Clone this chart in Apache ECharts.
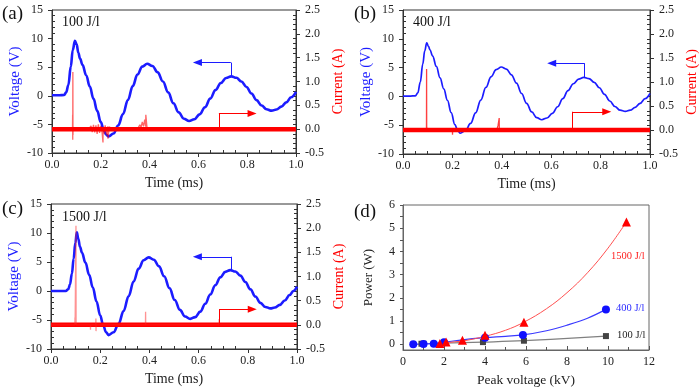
<!DOCTYPE html>
<html><head><meta charset="utf-8">
<script src="https://cdn.jsdelivr.net/npm/echarts@6/dist/echarts.min.js"></script>
<style>html,body{margin:0;padding:0;background:#fff}#c{width:700px;height:390px}</style>
</head><body><div id="c"></div>
<script>
// ---------- Panel (a) 100 J/l ----------
const tA = [0, 0.03, 0.05, 0.058, 0.067, 0.077, 0.085, 0.094, 0.101, 0.108, 0.115, 0.125, 0.14, 0.155, 0.17, 0.185, 0.2, 0.212, 0.222, 0.232, 0.252, 0.271, 0.291, 0.311, 0.331, 0.35, 0.37, 0.39, 0.4115, 0.433, 0.4545, 0.476, 0.4975, 0.519, 0.5405, 0.562, 0.5836, 0.605, 0.627, 0.6485, 0.67, 0.692, 0.7135, 0.735, 0.7556, 0.776, 0.797, 0.8175, 0.838, 0.859, 0.879, 0.9, 0.92, 0.94, 0.96, 0.98, 1.0];
const vA = [0.1, 0.1, 0.15, 0.6, 1.9, 5.1, 8.0, 9.6, 9.0, 7.5, 6.5, 5.4, 3.6, 1.6, -0.5, -2.6, -4.6, -6.0, -6.8, -7.1, -6.6, -5.2, -3.2, -0.75, 1.7, 3.7, 5.1, 5.6, 5.2, 4.1, 2.5, 0.6, -1.3, -2.9, -4.0, -4.4, -4.1, -3.25, -2.0, -0.5, 1.0, 2.25, 3.1, 3.4, 3.15, 2.5, 1.55, 0.4, -0.75, -1.7, -2.35, -2.6, -2.4, -1.9, -1.15, -0.25, 0.7];
const cTA = [0, 0.084, 0.0845, 0.085, 0.0855, 0.086, 0.0865, 0.087, 0.15, 0.16, 0.165, 0.17, 0.175, 0.18, 0.185, 0.19, 0.195, 0.2, 0.205, 0.209, 0.2095, 0.213, 0.218, 0.224, 0.229, 0.2295, 0.235, 0.245, 0.35, 0.36, 0.365, 0.37, 0.375, 0.38, 0.384, 0.3845, 0.39, 1.0];
const cIA = [0, 0, 0.3, -0.22, 1.2, -0.12, 0.05, 0, 0, 0.07, -0.06, 0.09, -0.07, 0.08, -0.1, 0.1, -0.08, 0.07, -0.06, -0.28, 0.05, -0.1, 0.08, -0.12, 0.06, -0.2, 0.05, 0, 0, 0.09, 0.04, 0.15, 0.06, 0.2, 0.05, 0.3, 0, 0];

// ---------- Panel (b) 400 J/l ----------
const tB = [0, 0.03, 0.05, 0.06, 0.07, 0.08, 0.088, 0.096, 0.103, 0.109, 0.12, 0.135, 0.15, 0.165, 0.18, 0.195, 0.21, 0.222, 0.232, 0.2528, 0.2735, 0.294, 0.315, 0.3355, 0.3565, 0.377, 0.398, 0.4185, 0.439, 0.4595, 0.48, 0.5005, 0.521, 0.5415, 0.562, 0.583, 0.6045, 0.626, 0.647, 0.668, 0.6895, 0.711, 0.732, 0.753, 0.774, 0.795, 0.816, 0.837, 0.858, 0.879, 0.9, 0.92, 0.94, 0.96, 0.98, 1.0];
const vB = [0.05, 0.05, 0.1, 0.6, 2.5, 5.6, 7.9, 9.3, 8.7, 8.1, 7.0, 5.2, 3.2, 1.3, -0.7, -2.8, -4.9, -6.0, -6.4, -5.95, -4.7, -2.85, -0.65, 1.55, 3.4, 4.65, 5.1, 4.75, 3.75, 2.3, 0.5, -1.2, -2.7, -3.7, -4.05, -3.75, -2.95, -1.8, -0.4, 1.0, 2.2, 3.0, 3.3, 3.1, 2.45, 1.5, 0.35, -0.8, -1.75, -2.4, -2.6, -2.4, -1.9, -1.2, -0.4, 0.5];
const cTB = [0, 0.095, 0.0955, 0.096, 0.0965, 0.097, 0.2, 0.2005, 0.201, 0.38, 0.385, 0.389, 0.3895, 0.39, 1.0];
const cIB = [0, 0, 1.27, -0.03, 0.05, 0, 0, -0.1, 0, 0, 0.1, 0.06, 0.25, 0, 0];

// ---------- Panel (c) 1500 J/l ----------
const tC = [0, 0.03, 0.06, 0.07, 0.077, 0.085, 0.092, 0.099, 0.105, 0.111, 0.118, 0.126, 0.14, 0.155, 0.17, 0.185, 0.2, 0.212, 0.224, 0.234, 0.2544, 0.2748, 0.2951, 0.3155, 0.3359, 0.3562, 0.3766, 0.397, 0.418, 0.439, 0.46, 0.4815, 0.503, 0.524, 0.545, 0.566, 0.5864, 0.6068, 0.6271, 0.6475, 0.6679, 0.6883, 0.7086, 0.729, 0.7494, 0.7698, 0.79, 0.8105, 0.8309, 0.8513, 0.8716, 0.892, 0.91, 0.93, 0.95, 0.97, 0.985, 1.0];
const vC = [0, 0, 0.0, 0.3, 1.1, 3.0, 5.6, 8.3, 10.1, 9.0, 7.6, 6.6, 4.9, 2.8, 0.6, -1.8, -4.2, -5.9, -7.1, -7.6, -7.1, -5.65, -3.45, -0.9, 1.65, 3.85, 5.3, 5.8, 5.4, 4.25, 2.55, 0.5, -1.55, -3.25, -4.4, -4.8, -4.5, -3.55, -2.2, -0.6, 1.0, 2.35, 3.3, 3.6, 3.35, 2.65, 1.55, 0.3, -0.95, -2.05, -2.75, -3.0, -2.85, -2.4, -1.65, -0.7, 0.0, 0.75];
const cTC = [0, 0.097, 0.0975, 0.098, 0.101, 0.1015, 0.102, 0.16, 0.1605, 0.161, 0.182, 0.1825, 0.183, 0.1835, 0.384, 0.3845, 0.385, 0.683, 0.6835, 0.684, 1.0];
const cIC = [0, 0, 0.15, 0, 0, 2.05, 0, 0, -0.1, 0, 0, 0.13, -0.13, 0, 0, 0.27, 0, 0, 0.12, 0, 0];

// ---------- Panel (d) Power vs peak voltage ----------
const kv100 = [0.9, 1.0, 3.9, 5.9, 9.9];
const pw100 = [0.02, 0.02, 0.09, 0.15, 0.35];
const kv400 = [0.5, 1.0, 1.5, 2.0, 4.0, 5.85, 9.9];
const pw400 = [0.0, 0.01, 0.02, 0.08, 0.28, 0.4, 1.5];
const kv1500 = [1.8, 2.1, 2.9, 4.0, 5.9, 10.9];
const pw1500 = [0.03, 0.1, 0.17, 0.39, 0.95, 5.27];
// fitted curves
const fitKv100 = [0.9, 3.9, 5.9, 9.9];
const fitPw100 = [0.02, 0.09, 0.15, 0.35];
const fitKv400 = [0.5, 1.0, 1.5, 2.0, 3.0, 4.0, 5.0, 5.85, 7.0, 8.0, 9.0, 9.9];
const fitPw400 = [0.0, 0.01, 0.02, 0.08, 0.2, 0.28, 0.34, 0.4, 0.58, 0.82, 1.12, 1.5];
const fitKv1500 = [1.8, 2.5, 3.0, 4.0, 5.0, 5.9, 7.0, 8.0, 9.0, 10.0, 10.9];
const fitPw1500 = [0.03, 0.1, 0.15, 0.34, 0.6, 0.95, 1.53, 2.22, 3.08, 4.14, 5.27];

// tick labels
const powerTicks = [0, 1, 2, 3, 4, 5, 6];
const powerMinorTicks = [0, 0.5, 1, 1.5, 2, 2.5, 3, 3.5, 4, 4.5, 5, 5.5, 6];

// annotation arrows [x0,y0,x1,y1,x2,y2]
const arrowVA = [0.733, 3.45, 0.733, 5.8, 0.596, 5.8];
const arrowIA = [0.684, 0.0, 0.684, 0.33, 0.82, 0.33];
const arrowVB = [0.735, 3.35, 0.735, 5.75, 0.602, 5.75];
const arrowIB = [0.687, 0.0, 0.687, 0.38, 0.825, 0.38];
const arrowVC = [0.732, 3.65, 0.732, 5.9, 0.595, 5.9];
const arrowIC = [0.683, 0.0, 0.683, 0.32, 0.818, 0.32];

const SERIF = '"Liberation Serif","Times New Roman",serif';
const BLUE = '#1c1cff';
const RED = '#ff0000';
const AX = '#333';

const grids = [], xAxes = [], yAxes = [], series = [], titles = [];
const pairs = (xs, ys) => xs.map((x, i) => [x, ys[i]]);

function labelStyle(extra) {
  return Object.assign({show: true, color: '#222', fontFamily: SERIF, fontSize: 12, showMinLabel: true, showMaxLabel: true}, extra);
}
function minorAxis(base, split) {
  return Object.assign({}, base, {
    axisLine: {show: false, onZero: false},
    axisTick: {show: false, inside: true},
    minorTick: {show: true, splitNumber: split, length: 3, lineStyle: {color: AX, width: 1}},
    axisLabel: {show: false}, splitLine: {show: false}, minorSplitLine: {show: false},
    name: ''
  });
}
function arrowMark(a, color) {
  return {
    silent: true, animation: false, symbol: 'none',
    label: {show: false},
    lineStyle: {type: 'solid', color: color, width: 1},
    emphasis: {disabled: true},
    data: [
      [{coord: [a[0], a[1]], symbol: 'none'}, {coord: [a[2], a[3]], symbol: 'none'}],
      [{coord: [a[2], a[3]], symbol: 'none'}, {coord: [a[4], a[5]], symbol: 'triangle', symbolSize: [7, 9]}]
    ]
  };
}

function wavePanel(box, tV, vV, tI, vI, arrV, arrI, vWidth, spikeColor) {
  const g = grids.length;
  grids.push({left: box[0], top: box[1], width: box[2], height: box[3], show: true,
    borderColor: AX, borderWidth: 1, backgroundColor: 'rgba(0,0,0,0)', containLabel: false, outerBoundsMode: 'none'});
  const xBase = {gridIndex: g, type: 'value', position: 'bottom', min: 0, max: 1, interval: 0.2};
  const xi = xAxes.length;
  xAxes.push(Object.assign({}, xBase, {
    axisLine: {show: true, onZero: false, lineStyle: {color: AX, width: 1}},
    axisTick: {show: true, inside: false, length: 4, lineStyle: {color: AX}},
    minorTick: {show: false},
    axisLabel: labelStyle({margin: 6, formatter: v => v.toFixed(1)}),
    splitLine: {show: false},
    name: 'Time (ms)', nameLocation: 'middle', nameGap: 23, nameMoveOverlap: false,
    nameTextStyle: {fontFamily: SERIF, fontSize: 14, color: '#222'}
  }));
  xAxes.push(minorAxis(xBase, 4));
  const yLBase = {gridIndex: g, type: 'value', position: 'left', min: -10, max: 15, interval: 5};
  const yl = yAxes.length;
  yAxes.push(Object.assign({}, yLBase, {
    axisLine: {show: true, onZero: false, lineStyle: {color: AX, width: 1}},
    axisTick: {show: true, inside: false, length: 4, lineStyle: {color: AX}},
    minorTick: {show: false},
    axisLabel: labelStyle({margin: 9}),
    splitLine: {show: false},
    name: 'Voltage (V)', nameLocation: 'middle', nameGap: 29, nameRotate: 90, nameMoveOverlap: false,
    nameTextStyle: {fontFamily: SERIF, fontSize: 15, color: BLUE}
  }));
  yAxes.push(minorAxis(yLBase, 5));
  const yRBase = {gridIndex: g, type: 'value', position: 'right', min: -0.5, max: 2.5, interval: 0.5};
  const yr = yAxes.length;
  yAxes.push(Object.assign({}, yRBase, {
    axisLine: {show: true, onZero: false, lineStyle: {color: AX, width: 1}},
    axisTick: {show: true, inside: false, length: 4, lineStyle: {color: AX}},
    minorTick: {show: false},
    axisLabel: labelStyle({margin: 9, formatter: v => v.toFixed(1)}),
    splitLine: {show: false},
    name: 'Current (A)', nameLocation: 'middle', nameGap: 35, nameRotate: 90, nameMoveOverlap: false,
    nameTextStyle: {fontFamily: SERIF, fontSize: 14, color: RED}
  }));
  yAxes.push(minorAxis(yRBase, 5));

  series.push({type: 'line', xAxisIndex: xi, yAxisIndex: yl, data: pairs(tV, vV),
    showSymbol: false, smooth: 0.4, smoothMonotone: 'x', lineStyle: {color: BLUE, width: vWidth}, itemStyle: {color: BLUE},
    markLine: arrowMark(arrV, BLUE), z: 2});
  series.push({type: 'line', xAxisIndex: xi, yAxisIndex: yr, data: [[0, 0], [1, 0]],
    showSymbol: false, lineStyle: {color: RED, width: 4.5}, itemStyle: {color: RED},
    markLine: arrowMark(arrI, RED), z: 3});
  series.push({type: 'line', xAxisIndex: xi, yAxisIndex: yr, data: pairs(tI, vI),
    showSymbol: false, lineStyle: {color: spikeColor, width: 1.3}, itemStyle: {color: RED}, z: 4});
}

wavePanel([52, 10, 244, 143], tA, vA, cTA, cIA, arrowVA, arrowIA, 2.6, 'rgba(255,0,0,0.6)');
wavePanel([403, 10, 247, 144], tB, vB, cTB, cIB, arrowVB, arrowIB, 1.7, 'rgba(255,0,0,0.75)');
wavePanel([51, 204, 246, 145], tC, vC, cTC, cIC, arrowVC, arrowIC, 2.6, 'rgba(255,40,40,0.5)');

// ---------- Panel (d) ----------
const gd = grids.length;
grids.push({left: 403, top: 205, width: 246, height: 145, show: true, borderColor: '#666', borderWidth: 1,
  backgroundColor: 'rgba(0,0,0,0)', containLabel: false, outerBoundsMode: 'none'});
const xd = xAxes.length;
xAxes.push({gridIndex: gd, type: 'value', position: 'bottom', min: 0, max: 12, interval: 2,
  axisLine: {show: true, onZero: false, lineStyle: {color: '#666'}},
  axisTick: {show: true, inside: true, length: 4, lineStyle: {color: '#555'}},
  minorTick: {show: true, splitNumber: 2, length: 3, lineStyle: {color: '#555'}},
  axisLabel: labelStyle({margin: 6}),
  splitLine: {show: false},
  name: 'Peak voltage (kV)', nameLocation: 'middle', nameGap: 23, nameMoveOverlap: false,
  nameTextStyle: {fontFamily: SERIF, fontSize: 13.5, color: '#222'}});
const yd = yAxes.length;
yAxes.push({gridIndex: gd, type: 'value', position: 'left', min: -0.25, max: 6,
  axisLine: {show: true, onZero: false, lineStyle: {color: '#666'}},
  axisTick: {show: true, inside: false, length: 3, customValues: powerMinorTicks, lineStyle: {color: '#555'}},
  axisLabel: labelStyle({margin: 8, customValues: powerTicks, formatter: v => String(Math.round(v))}),
  splitLine: {show: false},
  name: 'Power (W)', nameLocation: 'middle', nameGap: 28, nameRotate: 90, nameMoveOverlap: false,
  nameTextStyle: {fontFamily: SERIF, fontSize: 13, color: '#222'}});

const fits = [[fitKv100, fitPw100, '#808080', 1.2], [fitKv400, fitPw400, '#3a3aff', 1.2], [fitKv1500, fitPw1500, '#ff5050', 1]];
fits.forEach(f => series.push({type: 'line', xAxisIndex: xd, yAxisIndex: yd, data: pairs(f[0], f[1]),
  showSymbol: false, smooth: 0.4, lineStyle: {color: f[2], width: f[3]}, z: 2}));
const pts = [[kv100, pw100, 'rect', 6, '#444'], [kv400, pw400, 'circle', 8, '#1010ff'], [kv1500, pw1500, 'triangle', 9, '#ff0000']];
pts.forEach(p => series.push({type: 'scatter', xAxisIndex: xd, yAxisIndex: yd, data: pairs(p[0], p[1]),
  symbol: p[2], symbolSize: p[3], itemStyle: {color: p[4], opacity: 1}, z: 3}));

// ---------- texts ----------
const T = (text, left, top, size, color) => ({text, left, top, padding: 0,
  textStyle: {fontFamily: SERIF, fontSize: size, fontWeight: 'normal', color}});
titles.push(T('(a)', 2, 5, 19, '#111'), T('(b)', 354, 5, 19, '#111'), T('(c)', 2, 200, 19, '#111'), T('(d)', 354, 203, 19, '#111'));
titles.push(T('100 J/l', 62, 15, 14, '#111'), T('400 J/l', 413, 15, 14, '#111'), T('1500 J/l', 62, 210, 14, '#111'));
titles.push(T('1500 J/l', 611, 251, 10.5, '#ff2020'), T('400 J/l', 616, 303, 10.5, '#2a2aff'), T('100 J/l', 617, 330, 10.5, '#222'));

const chart = echarts.init(document.getElementById('c'));
chart.setOption({
  animation: false,
  backgroundColor: '#fff',
  title: titles,
  grid: grids,
  xAxis: xAxes,
  yAxis: yAxes,
  series: series
});
</script>
</body></html>
